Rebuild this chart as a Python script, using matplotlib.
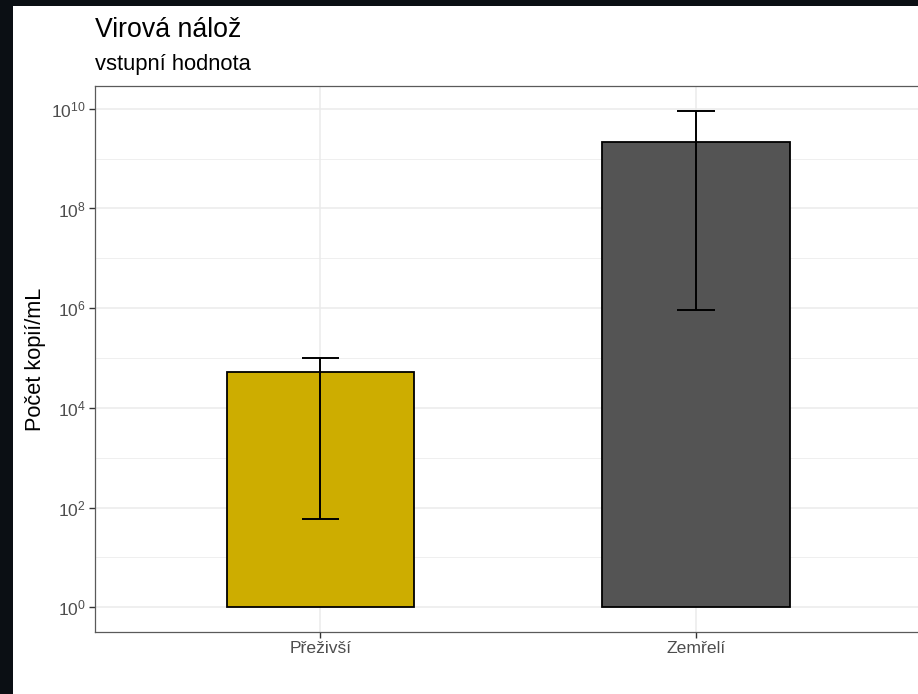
import numpy as np
import matplotlib
matplotlib.use("Agg")
import matplotlib.pyplot as plt
from matplotlib.patches import Rectangle
from matplotlib.ticker import FixedLocator, NullFormatter

plt.rcParams['font.family'] = ['Liberation Sans', 'DejaVu Sans']
plt.rcParams['mathtext.fontset'] = 'custom'
plt.rcParams['mathtext.rm'] = 'Liberation Sans'
plt.rcParams['mathtext.it'] = 'Liberation Sans:italic'

# viral load per outcome group (copies/mL)
groups = ['Přeživší', 'Zemřelí']
load = [5.3e4, 2.2e9]
load_low = [60, 9.2e5]
load_high = [1.0e5, 9.1e9]
bar_colors = ['#CDAD00', '#545454']

W, H, DPI = 918, 694, 100
fig = plt.figure(figsize=(W / DPI, H / DPI), dpi=DPI, facecolor='white')

# dark window frame along top and left edge
fig.patches.append(Rectangle((0, 1 - 6 / H), 1, 6 / H, transform=fig.transFigure,
                             facecolor='#0B0F14', edgecolor='none', zorder=-1))
fig.patches.append(Rectangle((0, 0), 13 / W, 1, transform=fig.transFigure,
                             facecolor='#0B0F14', edgecolor='none', zorder=-1))

# panel: left 95px, top 86px, bottom 632px, right edge runs past the image
px_left, px_right, px_top, px_bot = 95, 921.6, 86, 632
ax = fig.add_axes([px_left / W, 1 - px_bot / H, (px_right - px_left) / W, (px_bot - px_top) / H])

x = np.arange(len(groups))
ax.set_yscale('log')

ax.bar(x, np.array(load) - 1, bottom=1, width=0.5, color=bar_colors,
       edgecolor='black', linewidth=1.3, zorder=2)

# error bars with caps 0.1 units wide
ax.vlines(x, load_low, load_high, color='black', linewidth=1.4, zorder=3)
ax.hlines(load_low, x - 0.05, x + 0.05, color='black', linewidth=1.4, zorder=3)
ax.hlines(load_high, x - 0.05, x + 0.05, color='black', linewidth=1.4, zorder=3)

# limits: 5 % padding on the log range, 0.6 units on the discrete axis
lo, hi = 0.0, np.log10(max(load_high))
pad = 0.05 * (hi - lo)
ax.set_ylim(10 ** (lo - pad), 10 ** (hi + pad))
ax.set_xlim(-0.6, len(groups) - 0.4)

major = [10.0 ** k for k in range(0, 11, 2)]
minor = [10.0 ** k for k in range(1, 11, 2)]
ax.yaxis.set_major_locator(FixedLocator(major))
ax.yaxis.set_minor_locator(FixedLocator(minor))
ax.yaxis.set_minor_formatter(NullFormatter())
ax.set_yticklabels([r'$10^{%d}$' % k for k in range(0, 11, 2)])
ax.set_xticks(x)
ax.set_xticklabels(groups)

ax.grid(which='major', color='#EBEBEB', linewidth=1.1, zorder=0)
ax.grid(which='minor', axis='y', color='#EBEBEB', linewidth=0.55, zorder=0)
ax.set_axisbelow(True)

ax.tick_params(axis='both', which='major', length=4.2, width=1.0, color='#333333',
               labelsize=12.6, labelcolor='#4D4D4D', pad=2.5)
ax.tick_params(axis='y', which='minor', length=0)
for s in ax.spines.values():
    s.set_color('#5A5A5A')
    s.set_linewidth(0.9)

fig.text(35 / W, 1 - 359 / H, 'Počet kopií/mL', rotation=90, ha='center', va='center',
         fontsize=15.7, color='black')
fig.text(px_left / W, 1 - 37 / H, 'Virová nálož', ha='left', va='baseline',
         fontsize=19.2, color='black')
fig.text(px_left / W, 1 - 70 / H, 'vstupní hodnota', ha='left', va='baseline',
         fontsize=15.8, color='black')

fig.savefig('out.png', dpi=DPI, facecolor=fig.get_facecolor())
